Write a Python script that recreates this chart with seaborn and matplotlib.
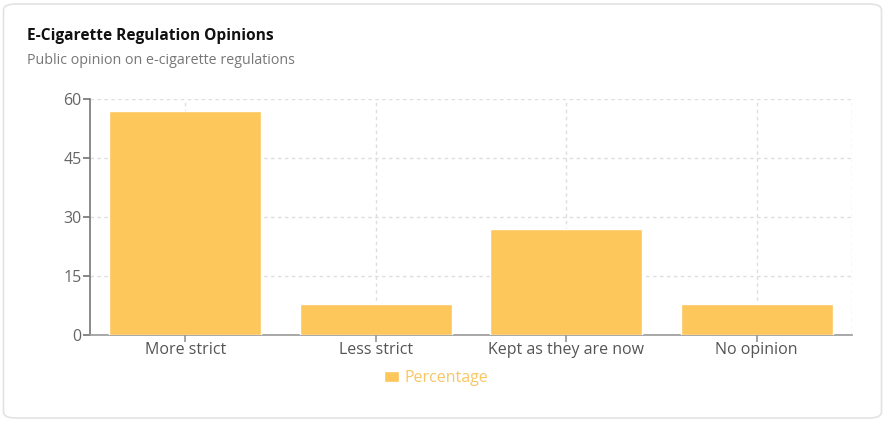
import numpy as np
import pandas as pd
import seaborn as sns
from matplotlib import pyplot as plt
from matplotlib.patches import FancyBboxPatch

categories = ["More strict", "Less strict", "Kept as they are now", "No opinion"]
percentages = [57, 8, 27, 8]
y_ticks = [0, 15, 30, 45, 60]

BAR = "#FDC75B"
W, H = 885, 422

sns.set_theme(style="white")
plt.rcParams["font.family"] = ["Open Sans", "DejaVu Sans"]

df = pd.DataFrame({"Option": categories, "Percentage": percentages})

fig = plt.figure(figsize=(W / 100, H / 100), dpi=100)
fig.patch.set_facecolor("white")

# card background, kept behind the axes
card = FancyBboxPatch(
    (3.5 / W, 4 / H), (878 / W), (414 / H),
    boxstyle="round,pad=0,rounding_size=0.014",
    transform=fig.transFigure, facecolor="white", edgecolor="#e3e3e3", lw=1.2,
    zorder=-10,
)
fig.patches.append(card)

fig.text(27 / W, 1 - 36 / H, "E-Cigarette Regulation Opinions", fontsize=11.2,
         fontweight="bold", color="#111111", va="center")
fig.text(27 / W, 1 - 60 / H, "Public opinion on e-cigarette regulations",
         fontsize=10.3, color="#777777", va="center")

ax = fig.add_axes([90 / W, (H - 335) / H, (852 - 90) / W, (335 - 99) / H])
ax.patch.set_alpha(0)
sns.barplot(df, x="Option", y="Percentage", color=BAR, width=0.8,
            saturation=1, label="Percentage", ax=ax, zorder=3)

ax.set_ylim(0, 60)
ax.set_xlim(-0.5, 3.5)
ax.set_yticks(y_ticks)
ax.set_xlabel("")
ax.set_ylabel("")
ax.grid(True, axis="both", linestyle=(0, (2.5, 2.5)), color="#dedede", lw=1, zorder=0)
ax.axvline(3.5, linestyle=(0, (2.5, 2.5)), color="#dedede", lw=1, zorder=0)
ax.set_axisbelow(True)
for s in ["top", "right"]:
    ax.spines[s].set_visible(False)
ax.spines["left"].set_color("#777777")
ax.spines["bottom"].set_color("#999999")
ax.spines["left"].set_linewidth(1.2)
ax.spines["bottom"].set_linewidth(1.2)
ax.tick_params(axis="y", length=5, color="#777777", labelsize=11.5,
               labelcolor="#666666", pad=1, left=True)
ax.tick_params(axis="x", length=5, color="#999999", labelsize=11.5,
               labelcolor="#555555", pad=0, bottom=True)

leg = ax.legend(loc="center", bbox_to_anchor=(436 / W, 1 - 378 / H),
                bbox_transform=fig.transFigure, frameon=False,
                handlelength=0.95, handleheight=0.75, handletextpad=0.3,
                fontsize=11.5)
for t in leg.get_texts():
    t.set_color("#F9C663")

fig.savefig("out.png", dpi=100, facecolor="white")
